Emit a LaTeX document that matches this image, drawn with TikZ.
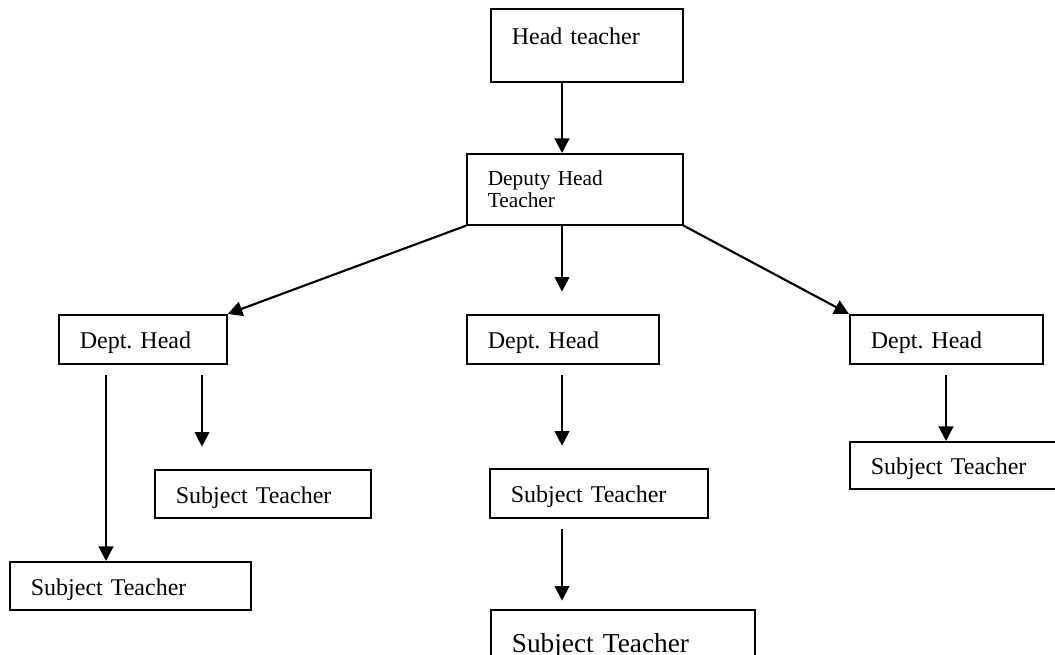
\documentclass[tikz,border=0pt]{standalone}
\usepackage{fontspec}
\setmainfont{Liberation Serif}
\usetikzlibrary{arrows.meta,calc}
\frenchspacing
\begin{document}
\begin{tikzpicture}[x=0.75pt,y=-0.75pt,
  box/.style={draw, line width=1.25pt, rectangle, anchor=north west, inner xsep=15.75pt, inner ysep=0pt,
    align=left, font=\fontsize{18}{20}\selectfont, text height=14pt, text depth=0pt},
  arr/.style={line width=1.6pt, -{Triangle[width=11pt,length=11pt]}}]
\useasboundingbox (0,0) rectangle (1055,654);
% boxes
\node[box, minimum width=144pt, minimum height=54.75pt, text width=112.5pt, text height=6pt, text depth=8pt] (head) at (490,8) {Head teacher};
\node[box, minimum width=162pt, minimum height=53.25pt, text width=130.5pt, font=\fontsize{16}{16.8}\selectfont, text height=, text depth=] (dep) at (466,153) {Deputy Head\\Teacher};
\node[box, minimum width=126pt, minimum height=36.75pt, text width=94.5pt] (d1) at (58,314) {Dept. Head};
\node[box, minimum width=144pt, minimum height=36.75pt, text width=112.5pt] (d2) at (466,314) {Dept. Head};
\node[box, minimum width=144.75pt, minimum height=36.75pt, text width=113.25pt] (d3) at (849,314) {Dept. Head};
\node[box, minimum width=162pt, minimum height=36pt, text width=130.5pt] (s1a) at (154,469) {Subject Teacher};
\node[box, minimum width=180.75pt, minimum height=36pt, text width=149.25pt] (s1b) at (9,561) {Subject Teacher};
\node[box, minimum width=163.5pt, minimum height=36.75pt, text width=132pt] (s2a) at (489,468) {Subject Teacher};
\node[box, minimum width=198pt, minimum height=49.5pt, text width=166.5pt, font=\fontsize{20.5}{22}\selectfont, text height=15pt] (s2b) at (490,609) {Subject Teacher};
\node[box, minimum width=165pt, minimum height=35.25pt, text width=133.5pt] (s3) at (849,441) {Subject Teacher};
% free arrow ends
\coordinate (hA) at ($(head.south west)+(72,0)$);
\coordinate (dA) at ($(dep.south west)+(96,0)$);
\coordinate (dB) at ($(dep.south west)+(96,66)$);
\coordinate (l1A) at ($(d1.south west)+(48,10)$);
\coordinate (l2A) at ($(d1.south west)+(144,10)$);
\coordinate (l2B) at ($(d1.south west)+(144,82)$);
\coordinate (mA) at ($(d2.south west)+(96,10)$);
\coordinate (mB) at ($(d2.south west)+(96,81)$);
\coordinate (nA) at ($(s2a.south west)+(73,10)$);
\coordinate (nB) at ($(s2a.south west)+(73,82)$);
\coordinate (rA) at ($(d3.south west)+(97,10)$);
% connectors
\draw[arr] (hA) -- (hA |- dep.north);
\draw[arr] (dep.south west) -- (d1.north east);
\draw[arr] (dA) -- (dB);
\draw[arr] (dep.south east) -- (d3.north west);
\draw[arr] (l1A) -- (l1A |- s1b.north);
\draw[arr] (l2A) -- (l2B);
\draw[arr] (mA) -- (mB);
\draw[arr] (nA) -- (nB);
\draw[arr] (rA) -- (rA |- s3.north);
\end{tikzpicture}
\end{document}
